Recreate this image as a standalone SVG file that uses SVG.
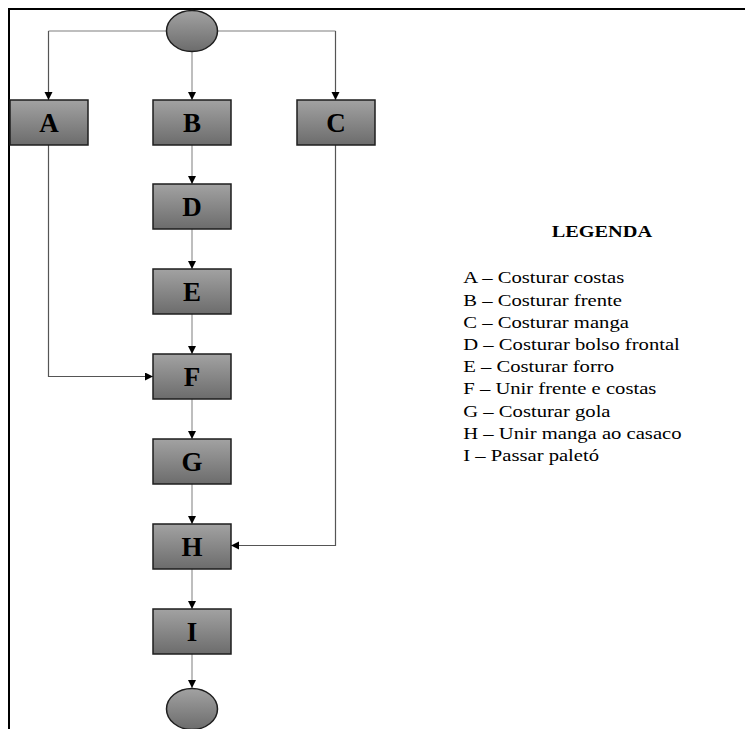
<svg xmlns="http://www.w3.org/2000/svg" width="745" height="729" viewBox="0 0 745 729">
<defs>
<linearGradient id="g" x1="0" y1="0" x2="0" y2="1">
<stop offset="0" stop-color="#a2a2a2"/>
<stop offset="1" stop-color="#6c6c6c"/>
</linearGradient>
<marker id="ar" markerUnits="userSpaceOnUse" markerWidth="9" markerHeight="9" refX="8" refY="4" orient="auto">
<path d="M0,0 L8,4 L0,8 z" fill="#000"/>
</marker>
<style>
.box{fill:url(#g);stroke:#1e1e1e;stroke-width:1.5}
.lbl{font-family:"Liberation Serif","Times New Roman",serif;font-weight:bold;font-size:27px;fill:#000;text-anchor:middle}
.lc{fill:none;stroke:#a8a8a8;stroke-width:1.5}
.dc{fill:none;stroke:#555;stroke-width:1.2}
.leg{font-family:"Liberation Serif","Times New Roman",serif;font-size:16px;fill:#000}
</style>
</defs>
<rect width="745" height="729" fill="#fff"/>
<path d="M9,729 V9 H745" fill="none" stroke="#000" stroke-width="2"/>
<g id="connectors">
<path class="lc" d="M167,31 H48.5"/>
<path class="dc" d="M48.5,31 V100" marker-end="url(#ar)"/>
<path class="lc" d="M218,31 H335.5"/>
<path class="dc" d="M335.5,31 V100" marker-end="url(#ar)"/>
<path class="lc" d="M192,51 V100" marker-end="url(#ar)"/>
<path class="lc" d="M192,145 V184" marker-end="url(#ar)"/>
<path class="lc" d="M192,229 V269" marker-end="url(#ar)"/>
<path class="lc" d="M192,314 V354" marker-end="url(#ar)"/>
<path class="lc" d="M192,399 V439" marker-end="url(#ar)"/>
<path class="lc" d="M192,484 V524" marker-end="url(#ar)"/>
<path class="lc" d="M192,569 V609" marker-end="url(#ar)"/>
<path class="lc" d="M192,654 V688" marker-end="url(#ar)"/>
<path class="dc" d="M48.5,145 V376.5 H153" marker-end="url(#ar)"/>
<path class="dc" d="M335.5,145 V545.5 H231" marker-end="url(#ar)"/>
</g>
<g id="start"><ellipse cx="192" cy="31" rx="25.5" ry="20.5" class="box"/></g>
<g id="A"><rect x="10" y="100" width="78" height="45" class="box"/><text x="49" y="132" class="lbl">A</text></g>
<g id="B"><rect x="153" y="100" width="78" height="45" class="box"/><text x="192" y="132" class="lbl">B</text></g>
<g id="C"><rect x="297" y="100" width="78" height="45" class="box"/><text x="336" y="132" class="lbl">C</text></g>
<g id="D"><rect x="153" y="184" width="78" height="45" class="box"/><text x="192" y="216" class="lbl">D</text></g>
<g id="E"><rect x="153" y="269" width="78" height="45" class="box"/><text x="192" y="301" class="lbl">E</text></g>
<g id="F"><rect x="153" y="354" width="78" height="45" class="box"/><text x="192" y="386" class="lbl">F</text></g>
<g id="G"><rect x="153" y="439" width="78" height="45" class="box"/><text x="192" y="471" class="lbl">G</text></g>
<g id="H"><rect x="153" y="524" width="78" height="45" class="box"/><text x="192" y="556" class="lbl">H</text></g>
<g id="I"><rect x="153" y="609" width="78" height="45" class="box"/><text x="192" y="641" class="lbl">I</text></g>
<g id="end"><ellipse cx="192" cy="709" rx="25.5" ry="20.5" class="box"/></g>
<g id="legend">
<g transform="translate(551.7,237.3) scale(1.27,1)"><text x="0" y="0" class="leg" font-weight="bold">LEGENDA</text></g>
<g transform="translate(463.3,0) scale(1.29,1)">
<text x="0" y="283.5" class="leg">A – Costurar costas</text>
<text x="0" y="305.7" class="leg">B – Costurar frente</text>
<text x="0" y="327.9" class="leg">C – Costurar manga</text>
<text x="0" y="350.4" class="leg">D – Costurar bolso frontal</text>
<text x="0" y="372.3" class="leg">E – Costurar forro</text>
<text x="0" y="394.5" class="leg">F – Unir frente e costas</text>
<text x="0" y="416.7" class="leg">G – Costurar gola</text>
<text x="0" y="438.9" class="leg">H – Unir manga ao casaco</text>
<text x="0" y="461.1" class="leg">I – Passar paletó</text>
</g>
</g>
</svg>
